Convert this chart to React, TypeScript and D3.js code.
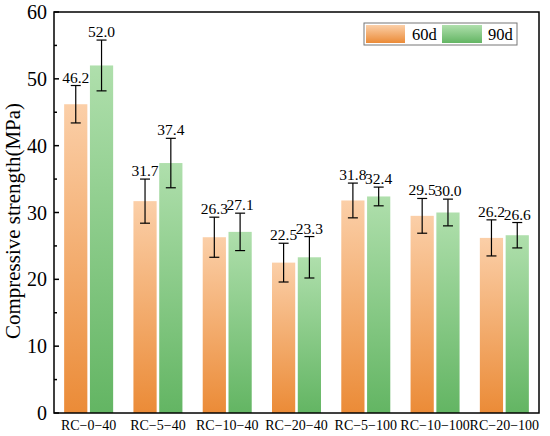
import * as d3 from 'd3';

const categories = ['RC−0−40', 'RC−5−40', 'RC−10−40', 'RC−20−40', 'RC−5−100', 'RC−10−100', 'RC−20−100'];
const strength60 = [46.2, 31.7, 26.3, 22.5, 31.8, 29.5, 26.2];
const strength90 = [52.0, 37.4, 27.1, 23.3, 32.4, 30.0, 26.6];
const error60 = [2.8, 3.3, 3.0, 2.9, 2.6, 2.6, 2.7];
const error90 = [3.8, 3.7, 2.8, 3.1, 1.4, 2.0, 1.9];
const seriesNames = ['60d', '90d'];
const yTicks = [0, 10, 20, 30, 40, 50, 60];
const yMinorTicks = [5, 15, 25, 35, 45, 55];

const FONT = 'Liberation Serif';

export default function App() {
  const width = 550;
  const height = 436;
  const margin = { top: 12, right: 11, bottom: 23, left: 54 };
  const innerW = width - margin.left - margin.right;
  const innerH = height - margin.top - margin.bottom;

  const x = d3.scaleBand().domain(categories).range([0, innerW]).padding(0);
  const sub = d3.scaleBand().domain(seriesNames).range([-24.5, 24.5]).paddingInner(0.1);
  const y = d3.scaleLinear().domain([0, 60]).range([innerH, 0]);

  const series = [
    { name: '60d', values: strength60, errors: error60, grad: 'gradOrange' },
    { name: '90d', values: strength90, errors: error90, grad: 'gradGreen' },
  ];

  return (
    <div style={{ position: 'absolute', left: 0, top: 0 }}>
      <svg width={width} height={height} style={{ display: 'block', background: '#fff' }}>
        <defs>
          <linearGradient id="gradOrange" x1="0" y1="0" x2="0" y2="1">
            <stop offset="0%" stopColor="#fbcfa8" />
            <stop offset="100%" stopColor="#eb8b37" />
          </linearGradient>
          <linearGradient id="gradGreen" x1="0" y1="0" x2="0" y2="1">
            <stop offset="0%" stopColor="#afdfac" />
            <stop offset="100%" stopColor="#63b563" />
          </linearGradient>
        </defs>
        <g transform={`translate(${margin.left},${margin.top})`}>
          {series.map((s) =>
            categories.map((c, i) => {
              const cx = (x(c) as number) + x.bandwidth() / 2;
              const bx = cx + (sub(s.name) as number);
              const bw = sub.bandwidth();
              const v = s.values[i];
              const e = s.errors[i];
              const mid = bx + bw / 2;
              return (
                <g key={s.name + c}>
                  <rect x={bx} y={y(v)} width={bw} height={innerH - y(v)} fill={`url(#${s.grad})`} />
                  <line x1={mid} x2={mid} y1={y(v + e)} y2={y(v - e)} stroke="#000" strokeWidth={1.2} />
                  <line x1={mid - 5} x2={mid + 5} y1={y(v + e)} y2={y(v + e)} stroke="#000" strokeWidth={1.2} />
                  <line x1={mid - 5} x2={mid + 5} y1={y(v - e)} y2={y(v - e)} stroke="#000" strokeWidth={1.2} />
                  <text x={mid} y={y(v + e) - 3} textAnchor="middle" fontFamily={FONT} fontSize={15.5} fill="#000">
                    {v.toFixed(1)}
                  </text>
                </g>
              );
            })
          )}

          {/* frame */}
          <rect x={0} y={0} width={innerW} height={innerH} fill="none" stroke="#000" strokeWidth={1.5} />

          {/* y ticks */}
          {yTicks.map((t) => (
            <g key={'yt' + t}>
              <line x1={0} x2={5} y1={y(t)} y2={y(t)} stroke="#000" strokeWidth={1.5} />
              <text x={-7} y={y(t)} dy="0.35em" textAnchor="end" fontFamily={FONT} fontSize={20} fill="#000">
                {t}
              </text>
            </g>
          ))}
          {yMinorTicks.map((t) => (
            <line key={'ym' + t} x1={0} x2={3} y1={y(t)} y2={y(t)} stroke="#000" strokeWidth={1.5} />
          ))}

          {/* x labels */}
          {categories.map((c) => (
            <text
              key={'xl' + c}
              x={(x(c) as number) + x.bandwidth() / 2}
              y={innerH + 17}
              textAnchor="middle"
              fontFamily={FONT}
              fontSize={14}
              fill="#000"
            >
              {c}
            </text>
          ))}

          {/* legend */}
          <g transform="translate(310,11)">
            <rect x={0} y={0} width={153} height={22} fill="#fff" stroke="#777" strokeWidth={1} />
            <rect x={2} y={2} width={39} height={18} fill="url(#gradOrange)" />
            <text x={48} y={16.5} fontFamily={FONT} fontSize={16.5} fill="#000">
              {seriesNames[0]}
            </text>
            <rect x={78} y={2} width={40} height={18} fill="url(#gradGreen)" />
            <text x={124} y={16.5} fontFamily={FONT} fontSize={16.5} fill="#000">
              {seriesNames[1]}
            </text>
          </g>
        </g>
        <text
          transform="translate(20,221) rotate(-90)"
          textAnchor="middle"
          fontFamily={FONT}
          fontSize={21}
          fill="#000"
        >
          Compressive strength(MPa)
        </text>
      </svg>
    </div>
  );
}
